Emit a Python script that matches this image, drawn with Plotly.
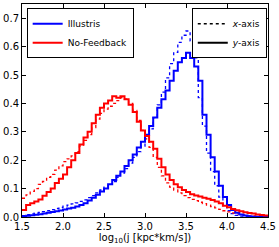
import numpy as np
import plotly.graph_objects as go

bin_left = [round(1.5 + 0.05 * i, 2) for i in range(60)]

red_y = [0.025, 0.042, 0.048, 0.055, 0.062, 0.075, 0.088, 0.10, 0.12, 0.135,
         0.15, 0.175, 0.20, 0.225, 0.255, 0.28, 0.30, 0.33, 0.36, 0.385,
         0.40, 0.41, 0.425, 0.42, 0.425, 0.415, 0.395, 0.37, 0.335, 0.305,
         0.285, 0.265, 0.24, 0.205, 0.175, 0.15, 0.13, 0.115, 0.105, 0.095,
         0.088, 0.08, 0.076, 0.072, 0.068, 0.064, 0.06, 0.055, 0.048, 0.04,
         0.034, 0.028, 0.024, 0.02, 0.017, 0.014, 0.012, 0.009, 0.007, 0.005]

red_x = [0.066, 0.078, 0.09, 0.10, 0.115, 0.125, 0.14, 0.15, 0.165, 0.18,
         0.195, 0.205, 0.215, 0.23, 0.25, 0.27, 0.29, 0.315, 0.345, 0.365,
         0.38, 0.39, 0.40, 0.41, 0.42, 0.415, 0.40, 0.375, 0.34, 0.305,
         0.275, 0.245, 0.21, 0.175, 0.145, 0.12, 0.105, 0.095, 0.085, 0.075,
         0.068, 0.062, 0.058, 0.052, 0.047, 0.042, 0.037, 0.032, 0.027, 0.022,
         0.018, 0.014, 0.011, 0.009, 0.007, 0.005, 0.004, 0.003, 0.002, 0.001]

blue_y = [0.002, 0.004, 0.006, 0.008, 0.01, 0.012, 0.015, 0.018, 0.02, 0.023,
          0.026, 0.03, 0.033, 0.037, 0.042, 0.048, 0.058, 0.068, 0.078, 0.09,
          0.10, 0.115, 0.13, 0.145, 0.16, 0.18, 0.20, 0.22, 0.245, 0.265,
          0.29, 0.32, 0.35, 0.385, 0.415, 0.445, 0.48, 0.515, 0.545, 0.56,
          0.578, 0.56, 0.53, 0.48, 0.36, 0.29, 0.21, 0.16, 0.11, 0.07,
          0.042, 0.025, 0.015, 0.009, 0.005, 0.003, 0.001, 0.0005, 0.0, 0.0]

blue_x = [0.005, 0.008, 0.011, 0.014, 0.016, 0.019, 0.022, 0.026, 0.03, 0.034,
          0.038, 0.042, 0.046, 0.05, 0.055, 0.06, 0.068, 0.075, 0.085, 0.095,
          0.105, 0.115, 0.125, 0.14, 0.155, 0.17, 0.19, 0.21, 0.23, 0.25,
          0.275, 0.31, 0.35, 0.395, 0.44, 0.49, 0.54, 0.58, 0.615, 0.64,
          0.655, 0.62, 0.56, 0.42, 0.32, 0.225, 0.16, 0.11, 0.07, 0.04,
          0.022, 0.012, 0.006, 0.003, 0.001, 0.0, 0.0, 0.0, 0.0, 0.0]

x_ticks = [1.5, 2.0, 2.5, 3.0, 3.5, 4.0, 4.5]
y_ticks = [0.0, 0.1, 0.2, 0.3, 0.4, 0.5, 0.6, 0.7]

edges = bin_left + [4.5]


def step(vals):
    return list(vals) + [vals[-1]]


fig = go.Figure()
BLUE = "#0000ff"
RED = "#ff0000"

fig.add_trace(go.Scatter(x=edges, y=step(blue_x), mode="lines", line_shape="hv",
                         line=dict(color=BLUE, width=1.3, dash="dot"), showlegend=False))
fig.add_trace(go.Scatter(x=edges, y=step(red_x), mode="lines", line_shape="hv",
                         line=dict(color=RED, width=1.3, dash="dot"), showlegend=False))
fig.add_trace(go.Scatter(x=edges, y=step(blue_y), mode="lines", line_shape="hv",
                         line=dict(color=BLUE, width=2), name="Illustris", legend="legend"))
fig.add_trace(go.Scatter(x=edges, y=step(red_y), mode="lines", line_shape="hv",
                         line=dict(color=RED, width=2), name="No-Feedback", legend="legend"))
fig.add_trace(go.Scatter(x=[None], y=[None], mode="lines",
                         line=dict(color="black", width=1.3, dash="dot"),
                         name="<i>x</i>-axis", legend="legend2"))
fig.add_trace(go.Scatter(x=[None], y=[None], mode="lines",
                         line=dict(color="black", width=2),
                         name="<i>y</i>-axis", legend="legend2"))

axis_common = dict(showline=True, linecolor="black", linewidth=1, mirror="ticks",
                   ticks="inside", ticklen=4, tickcolor="black", showgrid=False,
                   zeroline=False, automargin=False, tickfont=dict(size=10, color="black"))

fig.update_layout(
    width=279, height=247,
    margin=dict(l=22, r=11, t=4, b=30, autoexpand=False),
    paper_bgcolor="white", plot_bgcolor="white",
    font=dict(family="DejaVu Sans", color="black", size=10),
    xaxis=dict(range=[1.5, 4.5], tickvals=x_ticks, ticktext=[f"{v:.1f}" for v in x_ticks],
               title=dict(text="log<sub>10</sub>(j [kpc*km/s])", font=dict(size=10), standoff=0),
               **axis_common),
    yaxis=dict(range=[0, 0.75], tickvals=y_ticks, ticktext=[f"{v:.1f}" for v in y_ticks],
               **axis_common),
    legend=dict(x=0.019, y=0.98, xanchor="left", yanchor="top",
                bordercolor="black", borderwidth=1, bgcolor="white",
                font=dict(size=9), tracegroupgap=0, itemwidth=30),
    legend2=dict(x=0.995, y=0.98, xanchor="right", yanchor="top",
                 bordercolor="black", borderwidth=1, bgcolor="white",
                 font=dict(size=9), tracegroupgap=0, itemwidth=30),
)

fig.write_html("out.html", config={"displayModeBar": False},
               post_script="document.body.style.margin='0';document.body.style.padding='0';")
